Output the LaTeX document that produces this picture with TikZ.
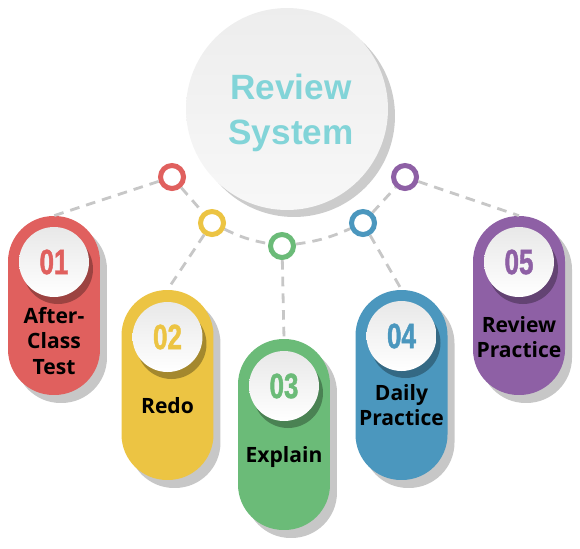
\documentclass[tikz,border=0pt]{standalone}
\usepackage{fontspec}
\setmainfont{Open Sans}
\newfontfamily\titlefont{Liberation Sans}
\newfontfamily\numfont[FakeStretch=0.74, FakeBold=1.2]{Liberation Sans Bold}
\usetikzlibrary{shadows}
\definecolor{redpill}{HTML}{E0605E}
\definecolor{yellowpill}{HTML}{ECC443}
\definecolor{greenpill}{HTML}{6BBB78}
\definecolor{bluepill}{HTML}{4B97BE}
\definecolor{purplepill}{HTML}{8E60A5}
\definecolor{titleteal}{HTML}{82D4D8}

\tikzset{
  pill/.style={rectangle, rounded corners=0.91cm, minimum width=1.84cm, inner sep=0pt, fill=#1,
    drop shadow={shadow xshift=0.14cm, shadow yshift=-0.16cm, fill=black!22, opacity=1}},
  numdisc/.style={circle, minimum size=1.4cm, inner sep=0pt, top color=black!9, bottom color=white,
    drop shadow={shadow xshift=0.08cm, shadow yshift=-0.14cm, fill=black, opacity=0.3},
    text=#1, font=\numfont\fontsize{20}{20}\selectfont},
  ring/.style={circle, draw=#1, line width=2.85pt, fill=white, minimum size=0.46cm, inner sep=0pt},
  link/.style={draw=black!22, line width=1.6pt, dash pattern=on 5.5pt off 4pt},
  steptext/.style={align=center, font=\bfseries\fontsize{12}{14.7}\selectfont}
}

\begin{document}
\begin{tikzpicture}[x=0.02cm,y=-0.02cm]
\useasboundingbox (0,0) rectangle (580,548);

% centre disc
\node[circle, minimum size=4.04cm, inner sep=0pt, top color=black!7, bottom color=black!3,
  drop shadow={shadow xshift=0.14cm, shadow yshift=-0.14cm, fill=black!20, opacity=1}]
  (sys) at (287,109) {};
\node[text=titleteal, align=center, font=\titlefont\bfseries\fontsize{20}{26}\selectfont]
  (title) at (291,113) {Review\\System};

% pills
\node[pill=redpill, minimum height=3.58cm] (p1) at (54,305.5) {};
\node[numdisc=redpill] (n1) at (54,262) {01};
\node[steptext] (t1) at (54,341) {After-\\Class\\Test};

\node[pill=yellowpill, minimum height=3.8cm] (p2) at (167.5,385) {};
\node[numdisc=yellowpill] (n2) at (167.5,337) {02};
\node[steptext] (t2) at (167.5,406) {Redo};

\node[pill=greenpill, minimum height=3.82cm] (p3) at (284,434.5) {};
\node[numdisc=greenpill] (n3) at (284,386) {03};
\node[steptext] (t3) at (284,457) {Explain};

\node[pill=bluepill, minimum height=3.8cm] (p4) at (401.5,385) {};
\node[numdisc=bluepill] (n4) at (401.5,336) {04};
\node[steptext] (t4) at (401.5,405) {Daily\\Practice};

\node[pill=purplepill, minimum height=3.58cm] (p5) at (519,305.5) {};
\node[numdisc=purplepill] (n5) at (519,262) {05};
\node[steptext] (t5) at (519,337) {Review\\Practice};

% rings
\node[ring=redpill] (r1) at (172,177) {};
\node[ring=yellowpill] (r2) at (212,223) {};
\node[ring=greenpill] (r3) at (282,246) {};
\node[ring=bluepill] (r4) at (363,223) {};
\node[ring=purplepill] (r5) at (405,177) {};

% dashed links
\draw[link] (r1) -- (r2);
\draw[link] (r2) to[bend right=8] (r3);
\draw[link] (r3) to[bend right=8] (r4);
\draw[link] (r4) -- (r5);
\draw[link] (r1) -- (p1.north);
\draw[link] (r2) -- (p2.north);
\draw[link] (r3) -- (p3.north);
\draw[link] (r4) -- (p4.north);
\draw[link] (r5) -- (p5.north);
\end{tikzpicture}
\end{document}
